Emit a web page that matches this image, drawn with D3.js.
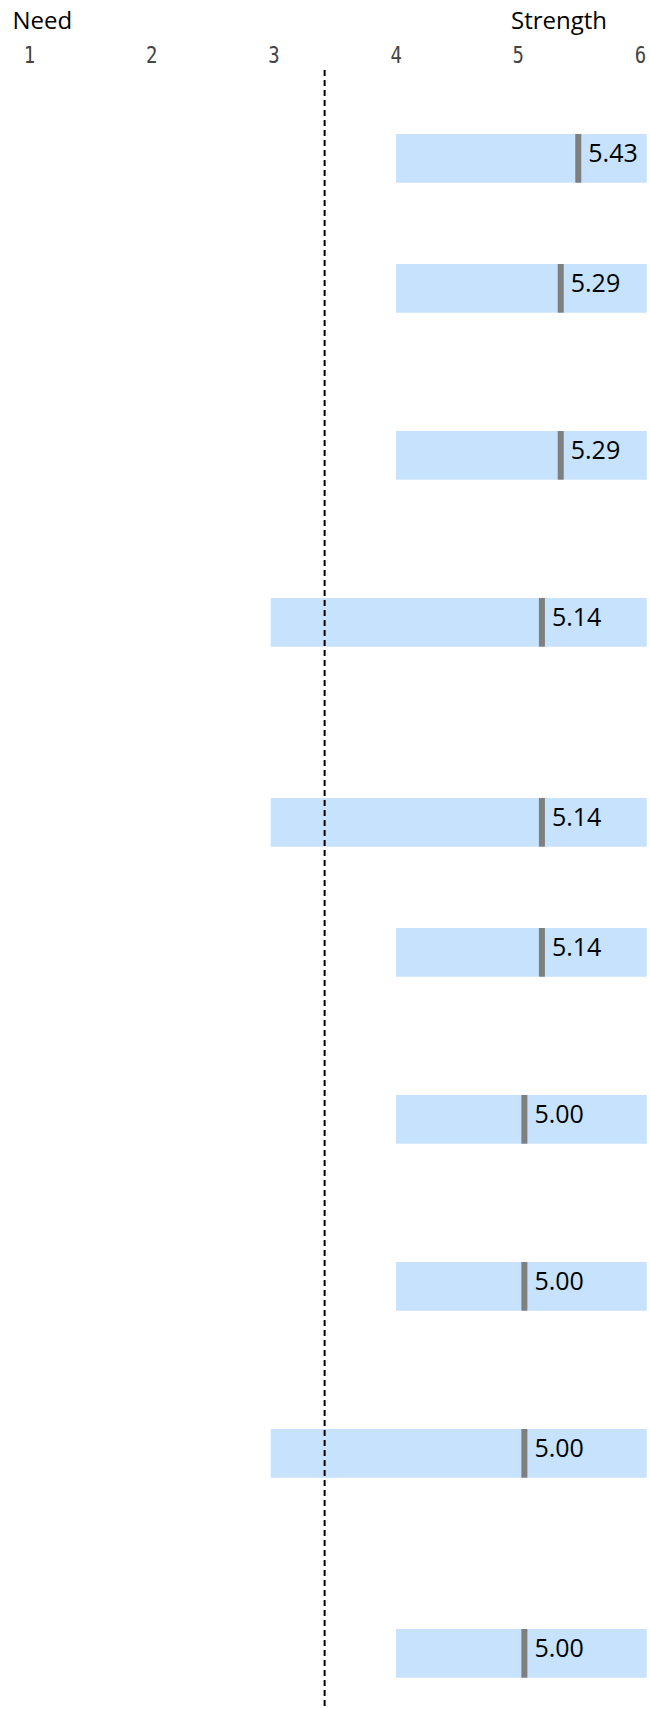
<!DOCTYPE html>
<html>
<head>
<meta charset="utf-8">
<script src="https://cdn.jsdelivr.net/npm/d3@7"></script>
<style>
  body { margin: 0; background: #fff; }
  svg { display: block; }
</style>
</head>
<body>
<div id="chart"></div>
<script>
// items (their text labels are not part of this crop)
const items = ['Item 1', 'Item 2', 'Item 3', 'Item 4', 'Item 5', 'Item 6', 'Item 7', 'Item 8', 'Item 9', 'Item 10'];
const meanScores = [5.43, 5.29, 5.29, 5.14, 5.14, 5.14, 5.00, 5.00, 5.00, 5.00];
const minScores = [4, 4, 4, 3, 3, 4, 4, 4, 3, 4];
const maxScores = [6, 6, 6, 6, 6, 6, 6, 6, 6, 6];
const tickValues = [1, 2, 3, 4, 5, 6];
const needLine = 3.43;

// number of text lines in each (hidden) item label, sets the row height
const rowLines = [1, 2, 2, 3, 1, 2, 2, 2, 3, 1];

const width = 650, height = 1709;
const barH = 48.7, markerW = 6;

const rows = items.map((name, i) => ({
    name: name,
    mean: meanScores[i],
    min: minScores[i],
    max: maxScores[i],
    lines: rowLines[i]
}));

const svg = d3.select('#chart')
    .append('svg')
    .attr('width', width)
    .attr('height', height);

// scales
const x = d3.scaleLinear().domain([1, 6]).range([20.1, 646.7]);
const xTick = d3.scaleLinear().domain([1, 6]).range([29, 640]);
const slotH = d3.scaleOrdinal().domain([1, 2, 3]).range([130, 167, 200]);

let acc = 134;
const tops = rows.map(d => { const t = acc; acc += slotH(d.lines); return t; });
const y = d3.scaleOrdinal().domain(items).range(tops);

// header labels
svg.append('text')
    .attr('x', 12.5).attr('y', 28.5)
    .style('font-family', '"Open Sans", sans-serif')
    .style('font-size', '24px')
    .attr('fill', '#000')
    .text('Need');

svg.append('text')
    .attr('x', 511).attr('y', 28.5)
    .style('font-family', '"Open Sans", sans-serif')
    .style('font-size', '24px')
    .attr('fill', '#000')
    .text('Strength');

// scale numbers
const axis = svg.append('g')
    .attr('class', 'scale-axis')
    .attr('transform', 'translate(0,63)')
    .call(d3.axisTop(xTick).tickValues(tickValues).tickSize(0).tickPadding(0).tickFormat(d3.format('d')));

axis.select('.domain').remove();
axis.selectAll('text')
    .attr('y', 0).attr('dy', 0)
    .attr('transform', 'scale(1,1.2)')
    .style('font-family', '"DejaVu Sans Mono", monospace')
    .style('font-size', '19px')
    .attr('fill', '#444');

// range bars
svg.selectAll('rect.range')
    .data(rows)
    .enter().append('rect')
    .attr('class', 'range')
    .attr('x', d => x(d.min))
    .attr('y', d => y(d.name))
    .attr('width', d => x(d.max) - x(d.min))
    .attr('height', barH)
    .attr('fill', '#c6e2fd');

// mean markers
svg.selectAll('rect.mean')
    .data(rows)
    .enter().append('rect')
    .attr('class', 'mean')
    .attr('x', d => x(d.mean))
    .attr('y', d => y(d.name))
    .attr('width', markerW)
    .attr('height', barH)
    .attr('fill', '#7f7f7f');

// value labels
svg.selectAll('text.value')
    .data(rows)
    .enter().append('text')
    .attr('class', 'value')
    .attr('x', d => x(d.mean) + markerW + 7)
    .attr('y', d => y(d.name) + 27.5)
    .style('font-family', '"Open Sans", sans-serif')
    .style('font-size', '25px')
    .attr('fill', '#000')
    .text(d => d3.format('.2f')(d.mean));

// need threshold line
svg.append('line')
    .attr('x1', x(needLine)).attr('x2', x(needLine))
    .attr('y1', 70).attr('y2', height)
    .attr('stroke', '#000')
    .attr('stroke-width', 2)
    .attr('stroke-dasharray', '6,4');
</script>
</body>
</html>
